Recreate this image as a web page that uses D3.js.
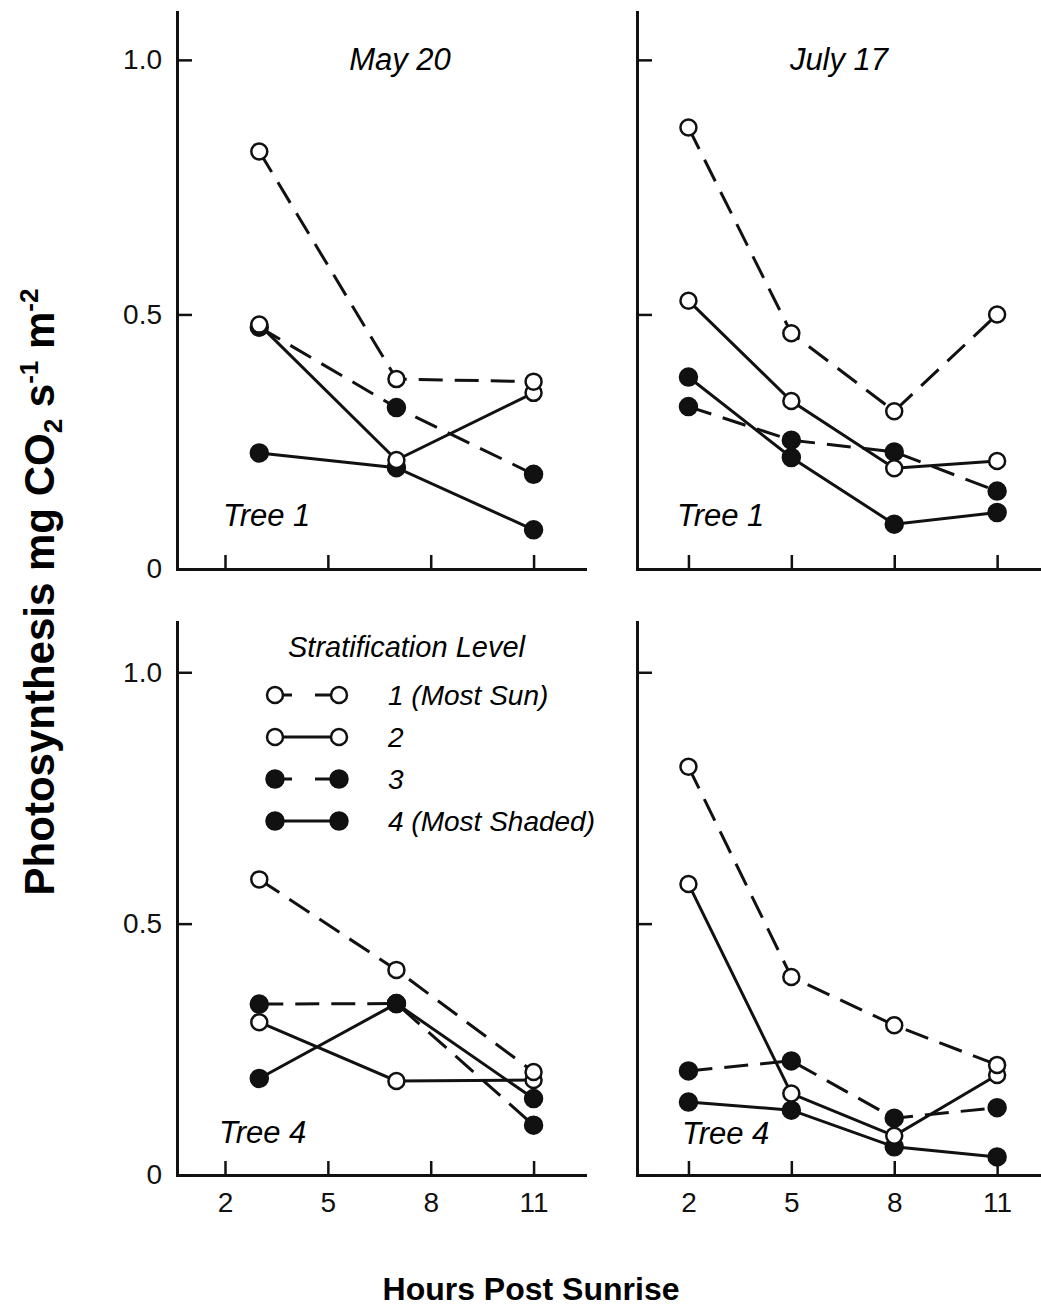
<!DOCTYPE html>
<html>
<head>
<meta charset="utf-8">
<script src="https://cdn.jsdelivr.net/npm/d3@7"></script>
<style>
  body { margin: 0; background: #fff; }
  svg { display: block; font-family: "Liberation Sans", Arial, Helvetica, sans-serif; }
  .axis path, .axis line { stroke: #111; }
  .axis path { stroke-width: 3; }
  .axis line { stroke-width: 2.5; }
  .axis text { font-size: 28px; fill: #111; }
</style>
</head>
<body>
<div class="container"></div>
<script>
var width = 1041,
    height = 1314;

// hours of measurement
var hoursMay = [3, 7, 11];
var hoursJuly = [2, 5, 8, 11];

// stratification levels (legend)
var levels = ['1 (Most Sun)', '2', '3', '4 (Most Shaded)'];

// photosynthesis values, one row per level 1..4
var may20Tree1 = [
    [0.82, 0.373, 0.368],
    [0.48, 0.214, 0.346],
    [0.475, 0.317, 0.186],
    [0.228, 0.199, 0.077]
];
var july17Tree1 = [
    [0.867, 0.463, 0.31, 0.50],
    [0.527, 0.33, 0.198, 0.212],
    [0.319, 0.253, 0.23, 0.153],
    [0.377, 0.219, 0.088, 0.111]
];
var may20Tree4 = [
    [0.588, 0.408, 0.205],
    [0.304, 0.187, 0.189],
    [0.34, 0.341, 0.099],
    [0.192, 0.341, 0.152]
];
var july17Tree4 = [
    [0.812, 0.394, 0.298, 0.219],
    [0.579, 0.162, 0.078, 0.199],
    [0.207, 0.227, 0.113, 0.134],
    [0.145, 0.129, 0.056, 0.036]
];

var xTicks = [2, 5, 8, 11];
var yTicks = [0, 0.5, 1.0];
var yTickLabels = ['0', '0.5', '1.0'];

var dashed = [true, false, true, false];
var open = [true, true, false, false];

var svg = d3.select('.container').append('svg')
    .attr('width', width)
    .attr('height', height);

var xLeft = d3.scaleLinear().domain([0.6, 12.5]).range([177, 585]);
var xRight = d3.scaleLinear().domain([0.5, 12.6]).range([637, 1052]);
var yTop = d3.scaleLinear().domain([0, 1.094]).range([569, 12]);
var yBottom = d3.scaleLinear().domain([0, 1.1]).range([1175, 622]);

var panels = [
    { x: xLeft, y: yTop, hours: hoursMay, data: may20Tree1, title: 'May 20', titleX: 400,
      tree: 'Tree 1', treeX: 223, treeDy: 43, xLabels: false, yLabels: true },
    { x: xRight, y: yTop, hours: hoursJuly, data: july17Tree1, title: 'July 17', titleX: 839,
      tree: 'Tree 1', treeX: 677, treeDy: 43, xLabels: false, yLabels: false },
    { x: xLeft, y: yBottom, hours: hoursMay, data: may20Tree4, title: null,
      tree: 'Tree 4', treeX: 219, treeDy: 32, xLabels: true, yLabels: true },
    { x: xRight, y: yBottom, hours: hoursJuly, data: july17Tree4, title: null,
      tree: 'Tree 4', treeX: 682, treeDy: 31, xLabels: true, yLabels: false }
];

var drawPanel = (p) => {
    var g = svg.append('g');
    var x0 = p.x.range()[0], y0 = p.y.range()[0];

    g.append('g')
        .attr('class', 'axis')
        .attr('transform', 'translate(0,' + y0 + ')')
        .call(d3.axisBottom(p.x).tickValues(xTicks)
            .tickSizeInner(-14).tickSizeOuter(0).tickPadding(17)
            .tickFormat(p.xLabels ? d3.format('d') : ''));

    g.append('g')
        .attr('class', 'axis')
        .attr('transform', 'translate(' + x0 + ',0)')
        .call(d3.axisLeft(p.y).tickValues(yTicks)
            .tickSizeInner(-15).tickSizeOuter(0).tickPadding(15)
            .tickFormat((d, i) => p.yLabels ? yTickLabels[i] : ''));

    g.selectAll('.axis .domain').attr('stroke-linecap', 'square');

    var line = d3.line()
        .x((d, i) => p.x(p.hours[i]))
        .y((d) => p.y(d));

    g.selectAll('.series')
        .data(p.data)
        .enter().append('path')
        .attr('d', line)
        .attr('fill', 'none')
        .attr('stroke', '#111')
        .attr('stroke-width', 3)
        .attr('stroke-dasharray', (d, i) => dashed[i] ? '24,12' : null);

    // filled markers first, open markers on top
    [3, 2, 1, 0].forEach((li) => {
        g.selectAll('.m' + li)
            .data(p.data[li])
            .enter().append('circle')
            .attr('cx', (d, i) => p.x(p.hours[i]))
            .attr('cy', (d) => p.y(d))
            .attr('r', open[li] ? 8 : 8.5)
            .attr('fill', open[li] ? '#fff' : '#111')
            .attr('stroke', '#111')
            .attr('stroke-width', 2.5);
    });

    if (p.title) {
        g.append('text')
            .attr('x', p.titleX)
            .attr('y', 70)
            .attr('text-anchor', 'middle')
            .attr('font-style', 'italic')
            .attr('font-size', 31)
            .text(p.title);
    }

    g.append('text')
        .attr('x', p.treeX)
        .attr('y', y0 - p.treeDy)
        .attr('font-style', 'italic')
        .attr('font-size', 31)
        .text(p.tree);
};

panels.forEach(drawPanel);

// legend
var lg = svg.append('g');
lg.append('text')
    .attr('x', 288)
    .attr('y', 657)
    .attr('font-style', 'italic')
    .attr('font-size', 29)
    .text('Stratification Level');

var legendY = d3.scalePoint().domain(levels).range([695, 821]);
levels.forEach((name, i) => {
    var yy = legendY(name);
    lg.append('line')
        .attr('x1', 275).attr('x2', 339)
        .attr('y1', yy).attr('y2', yy)
        .attr('stroke', '#111')
        .attr('stroke-width', 3)
        .attr('stroke-dasharray', dashed[i] ? '17,23,30' : null);
    [275, 339].forEach((cx) => {
        lg.append('circle')
            .attr('cx', cx).attr('cy', yy)
            .attr('r', open[i] ? 8 : 8.5)
            .attr('fill', open[i] ? '#fff' : '#111')
            .attr('stroke', '#111')
            .attr('stroke-width', 2.5);
    });
    lg.append('text')
        .attr('x', 388)
        .attr('y', yy + 10)
        .attr('font-style', 'italic')
        .attr('font-size', 28)
        .text(name);
});

// axis titles
svg.append('text')
    .attr('x', 531)
    .attr('y', 1300)
    .attr('text-anchor', 'middle')
    .attr('font-weight', 'bold')
    .attr('font-size', 32)
    .text('Hours Post Sunrise');

var yt = svg.append('text')
    .attr('transform', 'translate(54,592) rotate(-90)')
    .attr('text-anchor', 'middle')
    .attr('font-weight', 'bold')
    .attr('font-size', 42);
yt.append('tspan').text('Photosynthesis mg CO');
yt.append('tspan').attr('font-size', 26).attr('dy', 8).text('2');
yt.append('tspan').attr('dy', -8).text(' s');
yt.append('tspan').attr('font-size', 26).attr('dy', -16).text('-1');
yt.append('tspan').attr('dy', 16).text(' m');
yt.append('tspan').attr('font-size', 26).attr('dy', -16).text('-2');
</script>
</body>
</html>
